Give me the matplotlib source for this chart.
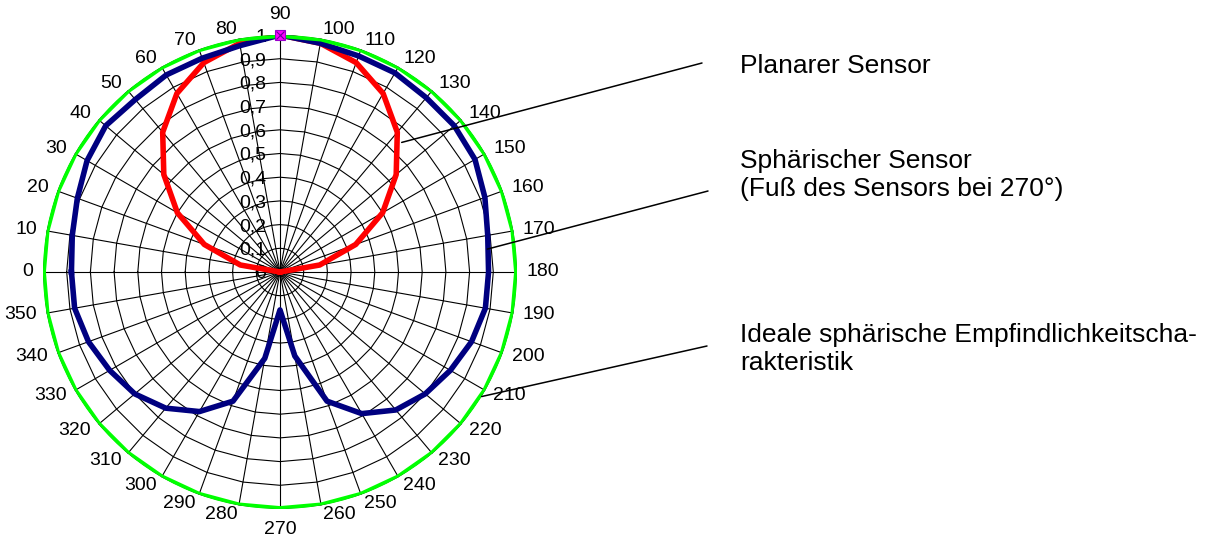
import numpy as np
import matplotlib
matplotlib.use("Agg")
import matplotlib.pyplot as plt

plt.rcParams["font.family"] = ["Liberation Sans", "DejaVu Sans"]

# Angle categories (deg), 0 = left, counted clockwise
angles = list(range(0, 360, 10))

# Planar sensor response
planar = [0.00, 0.17, 0.34, 0.50, 0.64, 0.77, 0.87, 0.94, 0.98, 1.00,
          0.98, 0.94, 0.87, 0.77, 0.64, 0.50, 0.34, 0.17, 0.00,
          0.00, 0.00, 0.00, 0.00, 0.00, 0.00, 0.00, 0.00, 0.00,
          0.00, 0.00, 0.00, 0.00, 0.00, 0.00, 0.00, 0.00]

# Spherical sensor response (foot of the sensor at 270 deg)
spherical = [0.88, 0.89, 0.91, 0.94, 0.96, 0.95, 0.96, 0.96, 0.97, 1.00,
             0.98, 0.97, 0.97, 0.96, 0.96, 0.95, 0.92, 0.89, 0.88,
             0.88, 0.86, 0.83, 0.80, 0.76, 0.69, 0.58, 0.36, 0.16,
             0.37, 0.58, 0.68, 0.75, 0.80, 0.83, 0.86, 0.88]

# Ideal spherical characteristic
ideal = [1.0] * 36

# Single highlighted point at 90 deg
marker_angle = [90]
marker_value = [1.0]

ring_values = [0.1, 0.2, 0.3, 0.4, 0.5, 0.6, 0.7, 0.8, 0.9, 1.0]
ring_labels = ["0", "0,1", "0,2", "0,3", "0,4", "0,5", "0,6", "0,7", "0,8", "0,9", "1"]

legend_texts = [
    ["Planarer Sensor"],
    ["Sphärischer Sensor", "(Fuß des Sensors bei 270°)"],
    ["Ideale sphärische Empfindlichkeitscha-", "rakteristik"],
]
# text baselines (px from top) and leader lines: text end (px) -> curve point (deg, r)
legend_baselines = [[73], [168, 196], [342, 370]]
leader_start = [(702, 63), (708, 191), (707, 346)]
leader_end = [(133.2, 0.75), (173.7, 0.88), (211.7, 1.0)]

W, H = 1213, 542
cx, cy, R = 280, 272, 237


def closed(vals):
    return list(vals) + [vals[0]]


th = np.radians(closed(angles))

fig = plt.figure(figsize=(W / 100, H / 100), dpi=100)
ax = fig.add_axes([(cx - R) / W, (H - cy - R) / H, 2 * R / W, 2 * R / H],
                  projection="polar")
ax.set_theta_zero_location("W")
ax.set_theta_direction(-1)
ax.set_ylim(0, 1)
ax.grid(False)
ax.spines["polar"].set_visible(False)
ax.set_xticks([])
ax.set_yticks([])
ax.patch.set_visible(False)

# polygon rings and spokes like a radar chart
for rv in ring_values:
    ax.plot(th, [rv] * len(th), color="black", lw=0.8, zorder=1)
for a in angles:
    ax.plot([np.radians(a)] * 2, [0, 1], color="black", lw=0.8, zorder=1)

# data series
ax.plot(th, closed(planar), color="#ff0000", lw=4, zorder=3,
        solid_joinstyle="round")
ax.plot(th, closed(spherical), color="#000080", lw=4, zorder=4,
        solid_joinstyle="round")
ax.plot(th, closed(ideal), color="#00ff00", lw=4.2, zorder=5,
        solid_joinstyle="round")
ax.plot(np.radians(marker_angle), marker_value, ls="none", marker="s",
        ms=7, mfc="#ff00ff", mec="#9900cc", mew=0.8, zorder=6, clip_on=False)
ax.plot(np.radians(marker_angle), marker_value, ls="none", marker="x",
        ms=6, mec="#660099", mew=0.8, zorder=7, clip_on=False)

# category labels around the outside
for a in angles:
    c, s = -np.cos(np.radians(a)), np.sin(np.radians(a))
    if abs(c) < 0.05:
        r_lab = 1.05
        ha = "center"
        va = "bottom" if s > 0 else "top"
    else:
        r_lab = 1.04
        ha = "left" if c > 0 else "right"
        va = "center"
    ax.text(np.radians(a), r_lab, str(a), ha=ha, va=va, fontsize=14,
            clip_on=False)

# radial value labels along the 90 deg spoke
for rv, lab in zip([0.0] + ring_values, ring_labels):
    ax.annotate(lab, xy=(np.radians(90), rv), xytext=(-14, -2),
                textcoords="offset pixels", ha="right", va="center",
                fontsize=14, zorder=2)

# descriptions with leader lines
for lines, bases, (sx, sy), (ea, er) in zip(legend_texts, legend_baselines,
                                            leader_start, leader_end):
    for txt, by in zip(lines, bases):
        fig.text(740 / W, 1 - by / H, txt, fontsize=19, ha="left",
                 va="baseline")
    ax.annotate("", xy=(np.radians(ea), er), xycoords="data",
                xytext=(sx, H - sy), textcoords="figure pixels",
                arrowprops=dict(arrowstyle="-", color="black", lw=1.1,
                                shrinkA=0, shrinkB=0), zorder=8)

fig.savefig("out.png", dpi=100)
